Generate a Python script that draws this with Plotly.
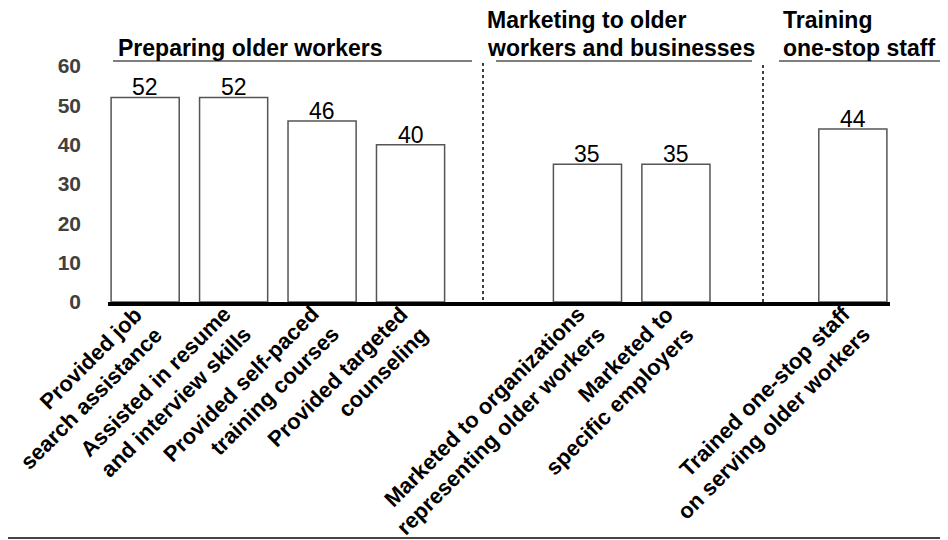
import plotly.graph_objects as go

# ---- data ----
group_names = ["Preparing older workers",
               "Marketing to older<br>workers and businesses",
               "Training<br>one-stop staff"]
group1_labels = ["Provided job<br>search assistance",
                 "Assisted in resume<br>and interview skills",
                 "Provided self-paced<br>training courses",
                 "Provided targeted<br>counseling"]
group1_values = [52, 52, 46, 40]
group2_labels = ["Marketed to organizations<br>representing older workers",
                 "Marketed to<br>specific employers"]
group2_values = [35, 35]
group3_labels = ["Trained one-stop staff<br>on serving older workers"]
group3_values = [44]
y_ticks = [0, 10, 20, 30, 40, 50, 60]

# build category list with spacer slots between groups
cats, vals, real = [], [], []
groups = [(group1_labels, group1_values), (group2_labels, group2_values), (group3_labels, group3_values)]
for gi, (labs, vs) in enumerate(groups):
    for l, v in zip(labs, vs):
        cats.append(l); vals.append(v); real.append(True)
    if gi < len(groups) - 1:
        cats.append(" " * (gi + 1)); vals.append(None); real.append(False)

FONT = "Liberation Sans, Arial, sans-serif"
OFF = 8  # page body margin

fig = go.Figure()
fig.add_trace(go.Bar(
    x=cats, y=vals, width=0.77,
    marker=dict(color="white", line=dict(color="#555555", width=1.5)),
    hoverinfo="skip",
))

annotations = []
for c, v, r in zip(cats, vals, real):
    if not r:
        continue
    # category label
    annotations.append(dict(
        x=c, y=0, xref="x", yref="y", text=c, showarrow=False,
        xanchor="right", yanchor="top", textangle=-45, align="right",
        xshift=24, yshift=2, borderpad=0,
        font=dict(family=FONT, size=22, color="black", weight="bold"),
    ))
    # value label
    annotations.append(dict(
        x=c, y=v, xref="x", yref="y", text=str(v), showarrow=False,
        xanchor="center", yanchor="bottom", yshift=-5,
        font=dict(family=FONT, size=23, color="black"),
    ))

# group headings (absolute page pixel helpers -> paper coords)
W = 782.0; H = 236.0
def px(p): return (p - 108) / W
def py(p): return (302 - p) / H

heading_x = [117, 486, 782]
for name, hx in zip(group_names, heading_x):
    lines = name.split("<br>")
    n = len(lines)
    for i, line in enumerate(lines):
        annotations.append(dict(
            x=px(hx), y=py(62 - 28 * (n - 1 - i)), xref="paper", yref="paper", text=line,
            showarrow=False, xanchor="left", yanchor="bottom", align="left", borderpad=0,
            font=dict(family=FONT, size=23, color="black", weight="bold"),
        ))

shapes = []
for x0, x1 in [(113, 472), (496, 752), (779, 948)]:
    shapes.append(dict(type="line", xref="paper", yref="paper",
                       x0=px(x0), x1=px(x1), y0=py(61), y1=py(61),
                       line=dict(color="black", width=1.2)))
for xd, y0, y1 in [(483, 60, 300), (763, 62, 302)]:
    shapes.append(dict(type="line", xref="paper", yref="paper",
                       x0=px(xd), x1=px(xd), y0=py(y1), y1=py(y0),
                       line=dict(color="black", width=1.5, dash="dot")))
shapes.append(dict(type="line", xref="paper", yref="paper",
                   x0=px(0), x1=px(948), y0=py(538), y1=py(538),
                   line=dict(color="#444444", width=2)))

fig.update_layout(
    width=948, height=540,
    margin=dict(l=108 - OFF, r=58 + OFF, t=66 - OFF, b=238 + OFF),
    paper_bgcolor="white", plot_bgcolor="white",
    showlegend=False,
    annotations=annotations, shapes=shapes,
    xaxis=dict(type="category", range=[-0.42, 8.42], showticklabels=False,
               showgrid=False, zeroline=False, showline=True,
               linecolor="black", linewidth=4, ticks=""),
    yaxis=dict(range=[0, 60], tickvals=y_ticks, showgrid=False, zeroline=False,
               showline=False, ticks="", ticklabelstandoff=26,
               tickfont=dict(family=FONT, size=21, color="#404040", weight="bold")),
)

fig.write_html("out.html")
